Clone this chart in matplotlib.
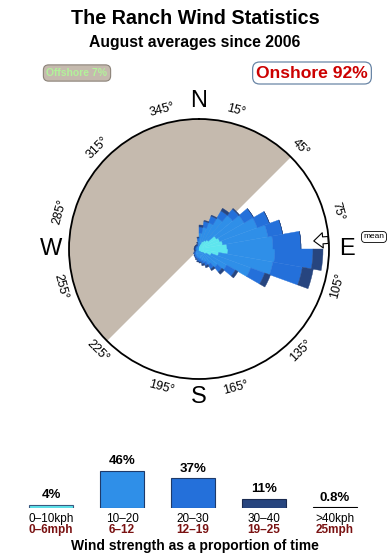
import numpy as np
import matplotlib
matplotlib.use("Agg")
import matplotlib.pyplot as plt

plt.rcParams['font.family'] = ['Liberation Sans', 'DejaVu Sans']

# ---------------- data ----------------
title = "The Ranch Wind Statistics"
subtitle = "August averages since 2006"
offshore_pct = 7
onshore_pct = 92
mean_dir = 86  # degrees

# wind rose: 10-degree bins (centres), stacked contributions per speed class
dir_centres = [5, 15, 25, 35, 45, 55, 65, 75, 85, 95, 105, 115,
               125, 135, 145, 155, 165, 175, 185, 195, 205, 215, 225, 235,
               245, 255, 265, 275, 285, 295, 305, 315, 325, 335, 345, 355]
rose_0_10 = [0.3, 0.5, 0.8, 1.0, 1.2, 2.0, 2.2, 2.4, 2.8, 2.9, 2.0, 1.3,
             0.8, 0.5, 0.4, 0.3, 0.3, 0.2, 0.2, 0.2, 0.2, 0.1, 0.1, 0.1,
             0.1, 0.1, 0.1, 0.1, 0.1, 0.1, 0.1, 0.1, 0.1, 0.1, 0.1, 0.2]
rose_10_20 = [1.3, 1.7, 2.0, 2.6, 3.2, 3.2, 4.0, 4.6, 4.6, 4.7, 5.5, 4.2,
              2.4, 1.9, 1.4, 1.1, 0.9, 0.8, 0.7, 0.6, 0.5, 0.5, 0.4, 0.3,
              0.2, 0.2, 0.2, 0.2, 0.2, 0.2, 0.2, 0.2, 0.2, 0.2, 0.3, 0.6]
rose_20_30 = [0.6, 0.6, 0.7, 0.8, 0.8, 1.1, 1.3, 1.5, 2.8, 3.8, 3.0, 1.5,
              1.0, 0.6, 0.5, 0.4, 0.3, 0.3, 0.3, 0.2, 0.2, 0.2, 0.2, 0.2,
              0.1, 0.1, 0.1, 0.1, 0.1, 0.1, 0.1, 0.1, 0.1, 0.1, 0.2, 0.3]
rose_30_40 = [0.2, 0.1, 0.1, 0.3, 0.1, 0.0, 0.0, 0.0, 0.0, 1.0, 1.1, 0.6,
              0.3, 0.3, 0.2, 0.2, 0.2, 0.1, 0.1, 0.1, 0.0, 0.0, 0.0, 0.0,
              0.1, 0.1, 0.1, 0.1, 0.1, 0.1, 0.1, 0.1, 0.1, 0.1, 0.1, 0.1]
rose_layers = [rose_0_10, rose_10_20, rose_20_30, rose_30_40]
rmax = 13.0

compass_ticks = [15, 45, 75, 105, 135, 165, 195, 225, 255, 285, 315, 345]
cardinals = ['N', 'E', 'S', 'W']
cardinal_angles = [0, 90, 180, 270]

# speed distribution
speed_kph = ['0\u201310kph', '10\u201320', '20\u201330', '30\u201340', '>40kph']
speed_mph = ['0\u20136mph', '6\u201312', '12\u201319', '19\u201325', '25mph']
speed_pct = [4, 46, 37, 11, 0.8]
speed_pct_labels = ['4%', '46%', '37%', '11%', '0.8%']

# ---------------- styles ----------------
speed_colors = ['#5ee6ee', '#2f8fe8', '#2470da', '#27457f', '#000000']
offshore_color = '#c5baae'

fig = plt.figure(figsize=(3.9, 5.6), dpi=100)

fig.text(0.5, 1 - 18 / 560, title, ha='center', va='center',
         fontsize=14.2, fontweight='bold')
fig.text(0.5, 1 - 42 / 560, subtitle, ha='center', va='center',
         fontsize=11.3, fontweight='bold')

fig.text(77 / 390, 1 - 73 / 560, f"Offshore {offshore_pct}%", ha='center',
         va='center', fontsize=7.5, fontweight='bold', color='#b2f29a',
         bbox=dict(boxstyle='round,pad=0.3,rounding_size=0.5',
                   fc=offshore_color, ec='#8c8379', lw=0.8))
fig.text(312 / 390, 1 - 73 / 560, f"Onshore {onshore_pct}%", ha='center',
         va='center', fontsize=12.6, fontweight='bold', color='#cc0000',
         bbox=dict(boxstyle='round,pad=0.2,rounding_size=0.4',
                   fc='white', ec='#6a86a6', lw=0.9))

# ---------------- compass rose ----------------
cx, cy, R = 199 / 390, 1 - 249 / 560, 130
wfrac, hfrac = R / 390, R / 560
ax = fig.add_axes([cx - wfrac, cy - hfrac, 2 * wfrac, 2 * hfrac],
                  projection='polar')
ax.set_theta_zero_location('N')
ax.set_theta_direction(-1)
ax.set_ylim(0, rmax)
ax.grid(False)
ax.set_yticks([])

# offshore half
ax.bar(np.deg2rad(315), rmax, width=np.pi, bottom=0, color=offshore_color,
       edgecolor='none', zorder=1)

theta = np.deg2rad(dir_centres)
bottom = np.zeros(len(dir_centres))
for vals, col in zip(rose_layers, speed_colors):
    v = np.array(vals)
    ax.bar(theta, v, width=np.deg2rad(10), bottom=bottom, color=col,
           edgecolor=col, lw=0.3, zorder=2)
    bottom = bottom + v

ax.spines['polar'].set_linewidth(1.3)
ax.spines['polar'].set_color('black')
ax.set_xticks(np.deg2rad(compass_ticks))
ax.set_xticklabels([])
ax.tick_params(axis='x', length=4, width=0.8, direction='out', color='black')

for a in compass_ticks:
    rot = ((-a + 90) % 180) - 90
    ax.text(np.deg2rad(a), rmax * 1.105, f"{a}\u00b0", ha='center',
            va='center', rotation=rot, rotation_mode='anchor', fontsize=9)
for lab, a in zip(cardinals, cardinal_angles):
    ax.text(np.deg2rad(a), rmax * 1.14, lab, ha='center', va='center',
            fontsize=17)

# mean direction arrow
ax.annotate('', xy=(np.deg2rad(mean_dir), rmax * 0.885),
            xytext=(np.deg2rad(mean_dir), rmax * 0.995),
            arrowprops=dict(arrowstyle='simple,head_width=1.1,head_length=0.65,tail_width=0.5',
                            fc='white', ec='black', lw=0.8, mutation_scale=10,
                            shrinkA=0, shrinkB=0), zorder=5)
fig.text(374 / 390, 1 - 237 / 560, "mean", ha='center', va='center',
         fontsize=6,
         bbox=dict(boxstyle='round,pad=0.25,rounding_size=0.5', fc='white',
                   ec='black', lw=0.6))

# ---------------- speed bars ----------------
bx = fig.add_axes([15.5 / 390, 1 - 508 / 560, 355 / 390, 60 / 560])
xs = np.arange(len(speed_pct))
bx.bar(xs, speed_pct, width=0.63, color=speed_colors,
       edgecolor=['#3a5a80', '#1e3a6a', '#1e3a6a', '#1a2a50', '#000000'],
       lw=0.8)
bx.set_xlim(-0.5, len(speed_pct) - 0.5)
bx.set_ylim(0, 75)
bx.axis('off')
for i, (v, lab) in enumerate(zip(speed_pct, speed_pct_labels)):
    bx.annotate(lab, (i, v), xytext=(0, 7), textcoords='offset points',
                ha='center', va='center', fontsize=9.5, fontweight='bold')
    bx.annotate(speed_kph[i], (i, 0), xytext=(0, -8), textcoords='offset points',
                ha='center', va='center', fontsize=8.5)
    bx.annotate(speed_mph[i], (i, 0), xytext=(0, -15.6), textcoords='offset points',
                ha='center', va='center', fontsize=8.5, fontweight='bold',
                color='#7a1212')
fig.text(0.5, 1 - 546 / 560, "Wind strength as a proportion of time",
         ha='center', va='center', fontsize=10, fontweight='bold')

fig.savefig('out.png', dpi=100)
